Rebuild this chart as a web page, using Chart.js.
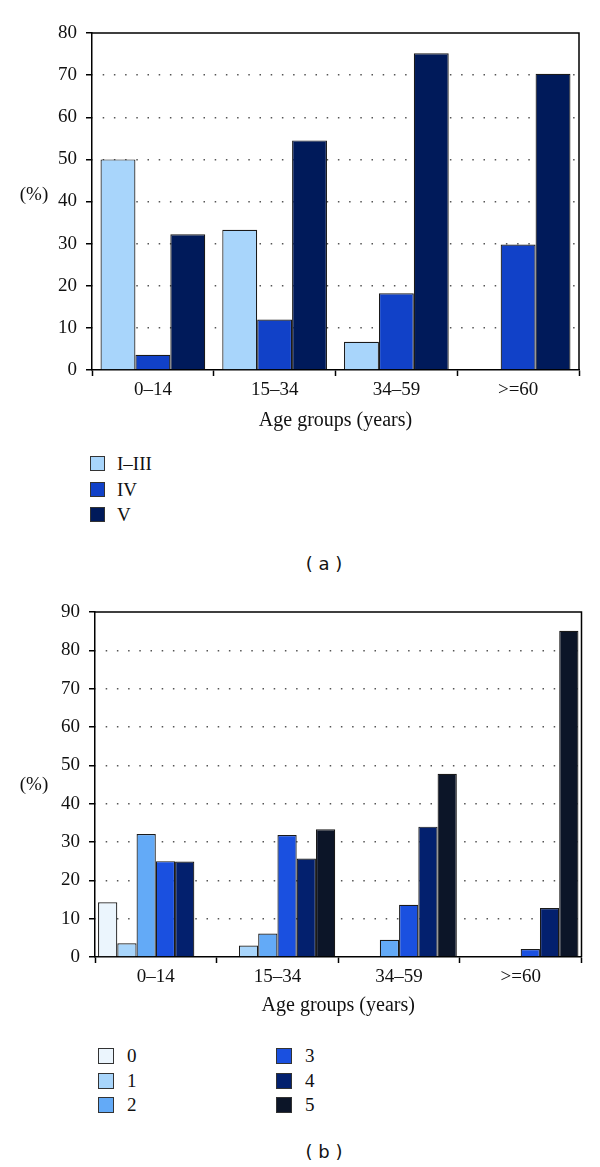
<!DOCTYPE html>
<html>
<head>
<meta charset="utf-8">
<script src="https://cdn.jsdelivr.net/npm/chart.js@4.4.1/dist/chart.umd.min.js"></script>
<style>
  body { margin: 0; background: #fff; width: 600px; height: 1167px; position: relative; overflow: hidden; }
  canvas { position: absolute; left: 0; }
  #graficoA { top: 0; }
  #graficoB { top: 580px; }
  .item { position: absolute; white-space: nowrap; font-family: 'Liberation Serif', 'DejaVu Serif', serif; font-size: 19px; color: #111; }
  .caixa { position: absolute; left: 0; top: 0; box-sizing: border-box; border: 1.5px solid #333; }
  .texto { position: absolute; top: 0; }
  .legendaFig { position: absolute; width: 60px; text-align: center; font-family: 'DejaVu Sans', sans-serif; font-size: 18px; line-height: 22px; color: #111; }
</style>
</head>
<body>
<canvas id="graficoA" width="600" height="440"></canvas>
<canvas id="graficoB" width="600" height="440"></canvas>
<div class="legendaFig" style="left:294px; top:553px;">( a )</div>
<div class="legendaFig" style="left:294px; top:1141px;">( b )</div>

<script>
// Categorias (faixas etárias)
const faixasEtarias = ['0–14', '15–34', '34–59', '>=60'];

// Gráfico (a) - estágios
const estagiosA = ['I–III', 'IV', 'V'];
const estagioI_III = [50.0, 33.3, 6.7, 0];
const estagioIV = [3.6, 12.0, 18.2, 29.8];
const estagioV = [32.2, 54.5, 75.2, 70.3];
const coresA = ['#a8d5fb', '#1141c8', '#001a5a'];
const ticksYA = { max: 80, passo: 10 };

// Gráfico (b) - escores 0 a 5
const escoresB = ['0', '1', '2', '3', '4', '5'];
const escore0 = [14.3, 0, 0, 0];
const escore1 = [3.6, 3.0, 0, 0];
const escore2 = [32.1, 6.1, 4.5, 0];
const escore3 = [25.0, 31.8, 13.6, 2.1];
const escore4 = [24.9, 25.7, 34.0, 12.8];
const escore5 = [0, 33.3, 47.8, 85.1];
const coresB = ['#ebf5fd', '#a8d5fb', '#63aaf7', '#1a50e0', '#03206e', '#0c1528'];
const ticksYB = { max: 90, passo: 10 };

const fonteSerif = "'Liberation Serif', 'DejaVu Serif', serif";

// Moldura (topo e lado direito) + rótulo "(%)" horizontal
const pluginMoldura = {
    id: 'moldura',
    afterDraw(chart, args, opts) {
        const { ctx, chartArea: a } = chart;
        ctx.save();
        ctx.strokeStyle = '#000';
        ctx.lineWidth = 1.5;
        ctx.beginPath();
        ctx.moveTo(a.left, a.top);
        ctx.lineTo(a.right, a.top);
        ctx.lineTo(a.right, a.bottom);
        ctx.stroke();
        ctx.font = '19px ' + fonteSerif;
        ctx.fillStyle = '#111';
        ctx.textAlign = 'center';
        ctx.textBaseline = 'middle';
        ctx.fillText('(%)', opts.x, opts.y);
        ctx.restore();
    }
};

function criarGrafico(id, labelsSeries, valores, cores, eixoY, cfg) {
    const datasets = labelsSeries.map((lab, i) => ({
        label: lab,
        data: valores[i],
        backgroundColor: cores[i],
        borderColor: '#1a1a1a',
        borderWidth: 1.2,
        categoryPercentage: cfg.catPct,
        barPercentage: 1
    }));

    return new Chart(document.getElementById(id).getContext('2d'), {
        type: 'bar',
        data: { labels: faixasEtarias, datasets: datasets },
        plugins: [pluginMoldura],
        options: {
            responsive: false,
            animation: false,
            layout: { padding: cfg.padding },
            plugins: {
                legend: { display: false },
                tooltip: { enabled: false },
                moldura: { x: cfg.pctX, y: cfg.pctY }
            },
            scales: {
                x: {
                    offset: true,
                    grid: { display: true, offset: true, drawOnChartArea: false, drawTicks: true, tickLength: 6, tickColor: '#000', tickWidth: 1.5 },
                    border: { display: true, color: '#000', width: 1.5 },
                    ticks: { color: '#111', font: { family: fonteSerif, size: 19 }, padding: 3, maxRotation: 0 },
                    title: { display: true, text: 'Age groups (years)', color: '#111', font: { family: fonteSerif, size: 20 }, padding: { top: 0, bottom: 0 } },
                    afterFit: s => { s.height = cfg.alturaX; }
                },
                y: {
                    min: 0,
                    max: eixoY.max,
                    ticks: { stepSize: eixoY.passo, padding: 9, color: '#111', font: { family: fonteSerif, size: 19 } },
                    grid: {
                        color: c => (c.tick && (c.tick.value === 0 || c.tick.value === eixoY.max)) ? 'rgba(0,0,0,0)' : '#555',
                        lineWidth: 1.5,
                        drawTicks: true,
                        tickLength: 6,
                        tickColor: '#000',
                        tickWidth: 1.5
                    },
                    border: { display: true, color: '#000', width: 1.5, dash: [1.5, 9.7], dashOffset: 1 },
                    afterFit: s => { s.width = cfg.larguraY; }
                }
            }
        }
    });
}

// Legenda em HTML montada a partir das séries
function montarLegenda(labels, cores, base) {
    labels.forEach((lab, i) => {
        const col = Math.floor(i / base.porColuna);
        const lin = i % base.porColuna;
        const item = document.createElement('div');
        item.className = 'item';
        item.style.left = (base.x + col * base.dx) + 'px';
        item.style.top = (base.y + lin * base.dy) + 'px';
        item.style.height = base.lado + 'px';
        const caixa = document.createElement('div');
        caixa.className = 'caixa';
        caixa.style.width = base.lado + 'px';
        caixa.style.height = base.lado + 'px';
        caixa.style.background = cores[i];
        const texto = document.createElement('div');
        texto.className = 'texto';
        texto.style.left = base.textoX + 'px';
        texto.style.lineHeight = base.lado + 'px';
        texto.textContent = lab;
        item.appendChild(caixa);
        item.appendChild(texto);
        document.body.appendChild(item);
    });
}

criarGrafico('graficoA', estagiosA, [estagioI_III, estagioIV, estagioV], coresA, ticksYA, {
    catPct: 0.86, padding: { top: 33, right: 21, bottom: 7, left: 0 },
    larguraY: 92, alturaX: 63, pctX: 34, pctY: 195
});

criarGrafico('graficoB', escoresB, [escore0, escore1, escore2, escore3, escore4, escore5], coresB, ticksYB, {
    catPct: 0.95, padding: { top: 32, right: 18.5, bottom: 2, left: 0 },
    larguraY: 95, alturaX: 61, pctX: 34, pctY: 205
});

montarLegenda(estagiosA, coresA, { x: 90, y: 456, dx: 0, dy: 25.7, porColuna: 3, lado: 15, textoX: 27 });
montarLegenda(escoresB, coresB, { x: 98, y: 1048, dx: 178, dy: 24.5, porColuna: 3, lado: 16, textoX: 29 });
</script>
</body>
</html>
